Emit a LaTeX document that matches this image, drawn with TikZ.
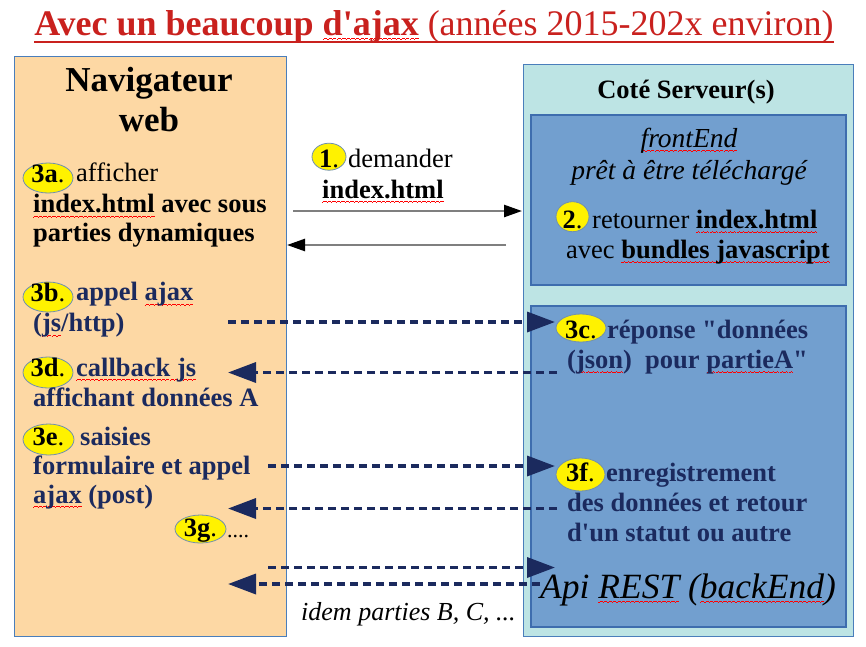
\documentclass[tikz,border=0pt]{standalone}
\usepackage{fontspec}
\setmainfont{Liberation Serif}[Ligatures=TeXOff]
\usetikzlibrary{shapes.geometric,arrows.meta,calc}
\definecolor{navfill}{HTML}{FDD8A4}
\definecolor{srvfill}{HTML}{BDE4E4}
\definecolor{blkfill}{HTML}{729FCF}
\definecolor{blkdraw}{HTML}{3E6DAE}
\definecolor{boxdraw}{HTML}{4A7EBB}
\definecolor{navy}{HTML}{1B2A5E}
\definecolor{titlered}{HTML}{C9211E}
\definecolor{lblborder}{HTML}{6F8FB0}
\definecolor{linegray}{HTML}{7F7F7F}
\definecolor{wavered}{HTML}{FF0000}
\newcommand\lbl[2]{\raisebox{-#1pt}[0pt][0pt]{\textbf{#2}.}}
\newcommand\rwave[1]{\setbox0=\hbox{#1}\rlap{\color{wavered}\hbox to\wd0{\xleaders\hbox{\rule[-4.6pt]{1.1pt}{0.6pt}\rule[-4pt]{1.1pt}{0.6pt}\rule[-3.4pt]{1.1pt}{0.6pt}\rule[-4pt]{1.1pt}{0.6pt}}\hfill}}\box0\relax}
\begin{document}
\begin{tikzpicture}[x=1pt,y=-1pt,
  box/.style={draw, rectangle, inner sep=0pt, anchor=north west},
  txt/.style={inner sep=0pt, anchor=base west, font=\fontsize{26.5}{30}\selectfont},
  ctxt/.style={txt, anchor=base},
  btxt/.style={txt, font=\fontsize{26.5}{30}\selectfont\bfseries},
  ntxt/.style={btxt, text=navy},
  lab/.style={ellipse, fill=yellow, draw=lblborder, line width=0.8pt, inner sep=0pt, font=\fontsize{26.5}{30}\selectfont},
  solidarrow/.style={draw=linegray, line width=2.5pt, -{Triangle[length=18pt,width=12pt,color=black]}},
  dasharrow/.style={draw=navy, line width=3.5pt, dash pattern=on 8pt off 5pt, -{Triangle[length=28pt,width=20pt]}}
]
\useasboundingbox (0,0) rectangle (866,646);

% title
\node[inner sep=0pt, anchor=base, text=titlered, font=\fontsize{36}{40}\selectfont] (title) at (434,35)
  {\textbf{Avec un beaucoup \rwave{d'ajax}} (années 2015-202x environ)};
\draw[titlered, line width=2.5pt] ($(title.base west)+(0,7)$) -- ($(title.base east)+(0,7)$);

% boxes
\node[box, fill=navfill, draw=boxdraw, line width=1pt, minimum width=272pt, minimum height=580pt] (nav) at (14,56) {};
\node[box, fill=srvfill, draw=boxdraw, line width=1pt, minimum width=330pt, minimum height=572pt] (srv) at (523,64) {};
\node[box, fill=blkfill, draw=blkdraw, line width=2pt, minimum width=315pt, minimum height=170pt] (front) at (530,114) {};
\node[box, fill=blkfill, draw=blkdraw, line width=2pt, minimum width=315pt, minimum height=321pt] (back) at (530,305) {};

% headers
\node[ctxt, font=\fontsize{35}{40}\selectfont\bfseries] (navt1) at (149,91) {Navigateur};
\node[ctxt, font=\fontsize{35}{40}\selectfont\bfseries] (navt2) at (149,131) {web};
\node[ctxt, font=\fontsize{26.5}{30}\selectfont\bfseries] (srvt) at (686,98) {Coté Serveur(s)};
\node[ctxt, font=\fontsize{27.5}{30}\selectfont\itshape] (fe1) at (689,147) {\rwave{frontEnd}};
\node[ctxt, font=\fontsize{27.5}{30}\selectfont\itshape] (fe2) at (689,179) {prêt à être téléchargé};

% left column
\node[lab, minimum width=50pt, minimum height=30pt] (l3a) at (48,178) {\lbl{4}{3a}};
\node[txt] (t3a1) at (76,181.7) {afficher};
\node[btxt] (t3a2) at (33,212.7) {\rwave{index.html} avec sous};
\node[btxt] (t3a3) at (33,241.7) {parties dynamiques};

\node[lab, minimum width=50pt, minimum height=30pt] (l3b) at (48,297) {\lbl{4}{3b}};
\node[ntxt] (t3b1) at (76,300.7) {appel \rwave{ajax}};
\node[ntxt] (t3b2) at (33,331.7) {(\rwave{js}/http)};

\node[lab, minimum width=50pt, minimum height=31pt] (l3d) at (48,372.5) {\lbl{3.5}{3d}};
\node[ntxt] (t3d1) at (76,376) {\rwave{callback js}};
\node[ntxt] (t3d2) at (33,406) {affichant données A};

\node[lab, minimum width=51pt, minimum height=31pt] (l3e) at (48.5,439.5) {\lbl{5.5}{3e}};
\node[ntxt] (t3e1) at (80,445) {saisies};
\node[ntxt] (t3e2) at (33,474) {formulaire et appel};
\node[ntxt] (t3e3) at (33,503) {\rwave{ajax} (post)};

\node[lab, minimum width=51pt, minimum height=28pt] (l3g) at (200.5,529) {\lbl{7.5}{3g}};
\node[txt, font=\fontsize{22}{26}\selectfont] (t3g) at (227,537) {....};

% middle
\node[lab, minimum width=34pt, minimum height=27pt] (l1) at (329,156.7) {\lbl{11}{1}};
\node[txt] (t1a) at (348,167) {demander};
\node[btxt] (t1b) at (322,198) {\rwave{index.html}};

% front block
\node[lab, minimum width=33pt, minimum height=30pt] (l2) at (572.5,216.7) {\lbl{11.5}{2}};
\node[txt] (t2a) at (592,228.3) {retourner \textbf{\rwave{index.html}}};
\node[txt] (t2b) at (566,258.3) {avec \textbf{\rwave{bundles javascript}}};

% back block
\node[lab, minimum width=50pt, minimum height=28pt] (l3c) at (581,328) {\lbl{10.5}{3c}};
\node[ntxt] (t3c1) at (607,338.3) {réponse "données};
\node[ntxt] (t3c2) at (567,368.3) {(\rwave{json})\ \ pour \rwave{partieA}"};

\node[lab, minimum width=49pt, minimum height=33pt] (l3f) at (580.5,474.5) {\lbl{7.2}{3f}};
\node[ntxt] (t3f1) at (606,481.7) {enregistrement};
\node[ntxt] (t3f2) at (567,511.7) {des données et retour};
\node[ntxt] (t3f3) at (567,541.7) {d'un statut ou autre};

\node[txt, font=\fontsize{35.5}{38}\selectfont\itshape] (api) at (540,598) {Api \rwave{REST} (\rwave{backEnd})};
\node[txt, font=\fontsize{26}{28}\selectfont\itshape] (idem) at (301,620) {idem parties B, C, ...};

% connector end points
\coordinate (a1s) at (293,211);
\coordinate (a1e) at (522,211);
\coordinate (a2s) at (506,245);
\coordinate (a2e) at (287,245);
\coordinate (d1s) at (228,322);
\coordinate (d1e) at (555,322);
\coordinate (d2s) at (557,372.5);
\coordinate (d2e) at (228,372.5);
\coordinate (d3s) at (268,466);
\coordinate (d3e) at (555,466);
\coordinate (d4s) at (557,508.5);
\coordinate (d4e) at (228,508.5);
\coordinate (d5s) at (268,567.5);
\coordinate (d5e) at (555,567.5);
\coordinate (d6s) at (540,584);
\coordinate (d6e) at (228,584);

\draw[solidarrow] (a1s) -- (a1e);
\draw[solidarrow] (a2s) -- (a2e);
\draw[dasharrow] (d1s) -- (d1e);
\draw[dasharrow] (d2s) -- (d2e);
\draw[dasharrow] (d3s) -- (d3e);
\draw[dasharrow] (d4s) -- (d4e);
\draw[dasharrow] (d5s) -- (d5e);
\draw[dasharrow] (d6s) -- (d6e);
\end{tikzpicture}
\end{document}
